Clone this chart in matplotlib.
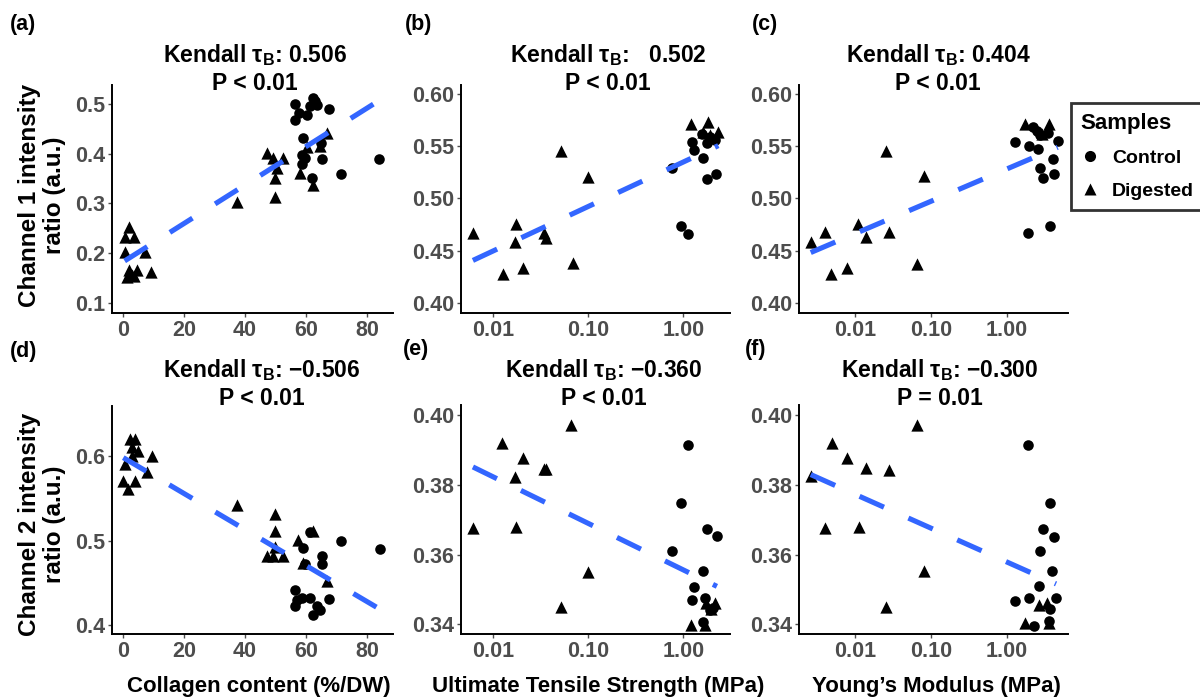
import numpy as np
import matplotlib
matplotlib.use("Agg")
import matplotlib.pyplot as plt
from matplotlib.lines import Line2D

plt.rcParams['font.family'] = ['Liberation Sans', 'DejaVu Sans']
plt.rcParams['font.weight'] = 'bold'

# ---- data ----
# (a) collagen vs channel 1
a_ctrl_x = [56.4, 56.4, 57.8, 60.2, 61.3, 62.4, 63.5, 67.5, 59.1, 64.9, 59.7, 58.6, 65.1, 61.9, 71.4, 84.0, 58.6, 63.0]
a_ctrl_y = [0.500, 0.468, 0.481, 0.478, 0.495, 0.511, 0.498, 0.489, 0.431, 0.421, 0.391, 0.379, 0.389, 0.351, 0.359, 0.389, 0.397, 0.505]
a_dig_x = [47.1, 49.1, 52.6, 49.8, 49.8, 66.8, 64.6, 60.2, 58.0, 62.4, 50.4, 37.3,
           1.9, 0.55, 3.6, 0.75, 7.3, 1.9, 2.95, 4.6, 9.3, 1.3, 3.5]
a_dig_y = [0.401, 0.391, 0.391, 0.351, 0.314, 0.441, 0.416, 0.414, 0.361, 0.337, 0.371, 0.302,
           0.253, 0.233, 0.233, 0.203, 0.203, 0.166, 0.156, 0.166, 0.163, 0.153, 0.155]

# (b) UTS vs channel 1
b_ctrl_x = [1.22, 1.30, 1.62, 1.76, 2.21, 0.94, 1.11, 1.76, 1.90, 0.755, 2.16, 1.55]
b_ctrl_y = [0.5545, 0.547, 0.5386, 0.519, 0.5235, 0.4736, 0.466, 0.553, 0.559, 0.529, 0.556, 0.562]
b_dig_x = [0.0061, 0.0126, 0.0173, 0.0169, 0.0204, 0.0342, 0.0359, 0.0516, 0.0686, 0.100, 1.20, 1.83, 2.33, 1.62, 1.90]
b_dig_y = [0.467, 0.4275, 0.4755, 0.4585, 0.433, 0.467, 0.462, 0.546, 0.438, 0.521, 0.5715, 0.5737, 0.564, 0.564, 0.561]

# (c) Young's modulus vs channel 1
c_ctrl_x = [1.29, 2.00, 2.25, 2.62, 2.76, 3.05, 4.06, 4.22, 4.72, 3.55, 2.76, 1.94, 3.74, 2.50]
c_ctrl_y = [0.554, 0.5507, 0.5683, 0.5475, 0.5296, 0.520, 0.5379, 0.5232, 0.5552, 0.5626, 0.561, 0.4666, 0.4736, 0.565]
c_dig_x = [0.0026, 0.0040, 0.0048, 0.0078, 0.0108, 0.0138, 0.0254, 0.0281, 0.065, 0.081, 1.75, 3.66, 2.90]
c_dig_y = [0.4585, 0.4675, 0.4275, 0.433, 0.4755, 0.4628, 0.546, 0.4675, 0.437, 0.5216, 0.572, 0.572, 0.562]

# (d) collagen vs channel 2
d_ctrl_x = [59.1, 65.1, 65.1, 71.4, 84.3, 61.3, 59.7, 56.4, 56.4, 58.6, 61.3, 63.5, 62.4, 67.6, 57.0, 64.5]
d_ctrl_y = [0.491, 0.4815, 0.4725, 0.500, 0.490, 0.510, 0.472, 0.441, 0.422, 0.432, 0.432, 0.422, 0.411, 0.431, 0.430, 0.418]
d_dig_x = [2.3, 3.9, 2.85, 5.0, 9.4, 0.66, 7.8, 0.1, 3.9, 1.7, 3.0,
           37.5, 49.8, 49.8, 49.8, 47.1, 49.3, 52.6, 57.5, 62.4, 66.8, 59.1]
d_dig_y = [0.6206, 0.6206, 0.611, 0.6067, 0.6007, 0.591, 0.581, 0.571, 0.571, 0.561, 0.600,
           0.542, 0.532, 0.511, 0.493, 0.482, 0.482, 0.482, 0.501, 0.511, 0.452, 0.473]

# (e) UTS vs channel 2
e_ctrl_x = [1.11, 0.946, 0.755, 1.79, 2.25, 1.62, 1.30, 1.22, 1.69, 2.07, 1.62, 1.90]
e_ctrl_y = [0.3914, 0.3747, 0.361, 0.3673, 0.3653, 0.3554, 0.3508, 0.347, 0.3474, 0.3446, 0.3407, 0.344]
e_dig_x = [0.0061, 0.0123, 0.0169, 0.0173, 0.0204, 0.0342, 0.036, 0.0513, 0.0658, 0.100, 1.20, 1.69, 1.73, 2.16, 1.95]
e_dig_y = [0.3675, 0.392, 0.3823, 0.3678, 0.3876, 0.3844, 0.3845, 0.345, 0.3971, 0.3551, 0.3397, 0.3397, 0.346, 0.346, 0.3445]

# (f) Young's modulus vs channel 2
f_ctrl_x = [1.94, 3.74, 3.05, 4.22, 2.76, 3.97, 2.65, 1.29, 2.00, 4.49, 3.74, 2.30, 3.66]
f_ctrl_y = [0.3914, 0.3747, 0.3672, 0.3651, 0.361, 0.3553, 0.351, 0.3468, 0.3474, 0.3476, 0.3443, 0.3395, 0.341]
f_dig_x = [0.0026, 0.0040, 0.0049, 0.0078, 0.0111, 0.014, 0.0254, 0.0284, 0.0652, 0.081, 1.75, 3.66, 2.70, 3.44]
f_dig_y = [0.3825, 0.3675, 0.392, 0.3876, 0.3678, 0.3847, 0.345, 0.3842, 0.3971, 0.3553, 0.3404, 0.3404, 0.3455, 0.346]

titles = ["Kendall $\\mathregular{\\tau_B}$: 0.506\nP < 0.01",
          "Kendall $\\mathregular{\\tau_B}$:   0.502\nP < 0.01",
          "Kendall $\\mathregular{\\tau_B}$: 0.404\nP < 0.01",
          "Kendall $\\mathregular{\\tau_B}$: \u22120.506\nP < 0.01",
          "Kendall $\\mathregular{\\tau_B}$: \u22120.360\nP < 0.01",
          "Kendall $\\mathregular{\\tau_B}$: \u22120.300\nP = 0.01"]
panel_tags = ["(a)", "(b)", "(c)", "(d)", "(e)", "(f)"]
xlabels = ["Collagen content (%/DW)", "Ultimate Tensile Strength (MPa)", "Young\u2019s Modulus (MPa)"]
ylabels = ["Channel 1 intensity\nratio (a.u.)", "Channel 2 intensity\nratio (a.u.)"]

W, H = 1200, 698
fig = plt.figure(figsize=(12, 6.98), dpi=100)

def px(l, t, r, b):
    return [l / W, 1 - b / H, (r - l) / W, (b - t) / H]

panels = [
    (a_ctrl_x, a_ctrl_y, a_dig_x, a_dig_y, False, px(112, 85, 393, 313), (-3.6, 88.5), (0.08, 0.538), [0.1, 0.2, 0.3, 0.4, 0.5], "%.1f"),
    (b_ctrl_x, b_ctrl_y, b_dig_x, b_dig_y, True, px(461, 85, 730, 313), (10**-2.34, 10**0.49), (0.39, 0.609), [0.40, 0.45, 0.50, 0.55, 0.60], "%.2f"),
    (c_ctrl_x, c_ctrl_y, c_dig_x, c_dig_y, True, px(799, 85, 1068, 313), (10**-2.74, 10**0.81), (0.39, 0.609), [0.40, 0.45, 0.50, 0.55, 0.60], "%.2f"),
    (d_ctrl_x, d_ctrl_y, d_dig_x, d_dig_y, False, px(112, 406, 393, 634), (-3.6, 88.5), (0.389, 0.66), [0.4, 0.5, 0.6], "%.1f"),
    (e_ctrl_x, e_ctrl_y, e_dig_x, e_dig_y, True, px(461, 405, 730, 634), (10**-2.34, 10**0.49), (0.3372, 0.4029), [0.34, 0.36, 0.38, 0.40], "%.2f"),
    (f_ctrl_x, f_ctrl_y, f_dig_x, f_dig_y, True, px(799, 405, 1068, 634), (10**-2.74, 10**0.81), (0.3372, 0.4029), [0.34, 0.36, 0.38, 0.40], "%.2f"),
]

# centre and baseline (of the second title line) in figure pixels
title_cx = [255, 608, 938, 262, 604, 940]
title_base = [90, 90, 90, 405, 405, 405]
tag_pos = [(10, 30), (405, 30), (752, 30), (10, 357), (403, 355), (745, 355)]

gray = "#4D4D4D"
for i, (cx, cy, dx, dy, logx, rect, xl, yl, yt, fmt) in enumerate(panels):
    ax = fig.add_axes(rect)
    ax.scatter(cx, cy, marker='o', s=58, color='black', linewidths=0, zorder=3)
    ax.scatter(dx, dy, marker='^', s=78, color='black', linewidths=0, zorder=3)

    # linear fit (lm), in log space for the mechanical properties
    allx = np.array(cx + dx)
    ally = np.array(cy + dy)
    fx = np.log10(allx) if logx else allx
    k, b0 = np.polyfit(fx, ally, 1)
    xs = np.linspace(fx.min(), fx.max(), 50)
    line_x = 10**xs if logx else xs
    ax.plot(line_x, k * xs + b0, color='#3366FF', lw=3.7, dashes=(5.2, 5.2),
            solid_capstyle='butt', dash_capstyle='butt', zorder=4)

    if logx:
        ax.set_xscale('log')
        ax.set_xticks([0.01, 0.1, 1.0])
        ax.set_xticklabels(["0.01", "0.10", "1.00"])
        ax.minorticks_off()
    else:
        ax.set_xticks([0, 20, 40, 60, 80])
    ax.set_xlim(*xl)
    ax.set_ylim(*yl)
    ax.set_yticks(yt)
    ax.set_yticklabels([fmt % v for v in yt])

    for s in ['top', 'right']:
        ax.spines[s].set_visible(False)
    for s in ['left', 'bottom']:
        ax.spines[s].set_linewidth(1.4)
        ax.spines[s].set_color('black')
    ax.tick_params(length=3, width=1, color=gray, labelcolor=gray, labelsize=15.5, pad=2)
    for lab in ax.get_xticklabels() + ax.get_yticklabels():
        lab.set_fontweight('bold')

    fig.text(title_cx[i] / W, 1 - title_base[i] / H, titles[i], ha='center', va='baseline',
             fontsize=16.5, fontweight='bold', linespacing=1.2)
    tx, ty = tag_pos[i]
    fig.text(tx / W, 1 - ty / H, panel_tags[i], ha='left', va='baseline', fontsize=15.5, fontweight='bold')

# axis labels
for cxp, lab in zip([259, 598, 936], xlabels):
    fig.text(cxp / W, 1 - 692 / H, lab, ha='center', va='baseline', fontsize=16, fontweight='bold')
for cyp, lab in zip([195, 524], ylabels):
    fig.text(42 / W, 1 - cyp / H, lab, ha='center', va='center', rotation=90,
             fontsize=17.5, fontweight='bold', multialignment='center', linespacing=1.1)

handles = [Line2D([], [], marker='o', ls='', color='black', ms=8, mec='none'),
           Line2D([], [], marker='^', ls='', color='black', ms=9, mec='none')]
leg = fig.legend(handles, ["Control", "Digested"], title="Samples", loc='upper left',
                 bbox_to_anchor=(1071 / W, 1 - 103 / H), borderaxespad=0, frameon=True, fancybox=False,
                 prop={'size': 14, 'weight': 'bold'},
                 title_fontproperties={'size': 16, 'weight': 'bold'},
                 handletextpad=0.6, handlelength=1.0, borderpad=0.5, labelspacing=0.8)
leg._legend_box.align = 'left'
leg.get_frame().set_edgecolor('black')
leg.get_frame().set_linewidth(2)

fig.savefig('out.png', dpi=100)
